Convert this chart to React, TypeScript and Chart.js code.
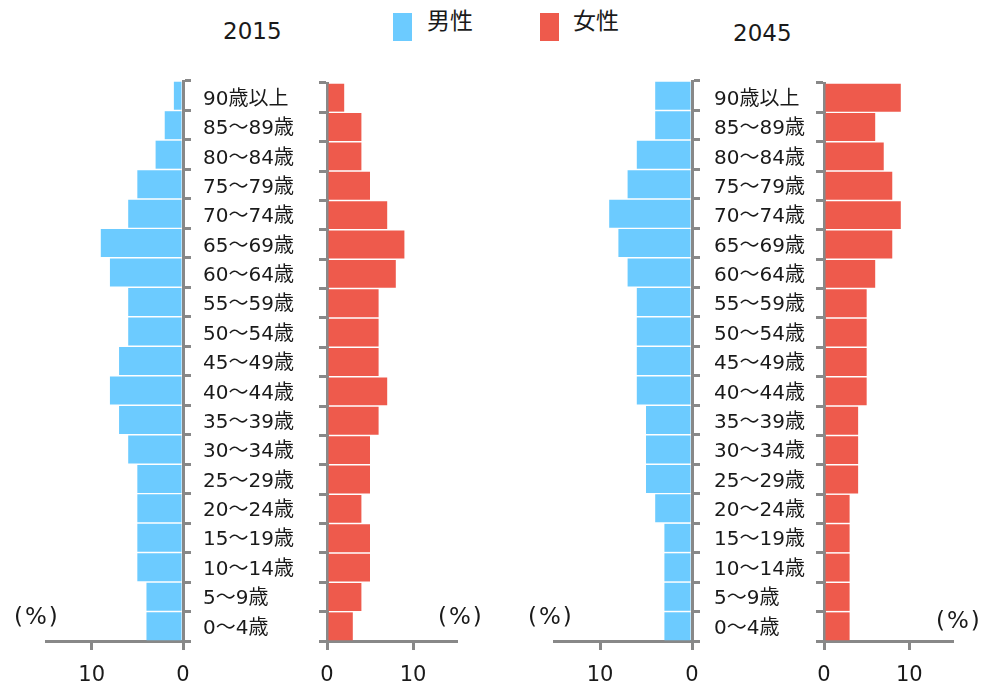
import React, { useEffect, useRef } from "react";
import { Chart, registerables } from "chart.js";

Chart.register(...registerables);

// ---- data ----
const ageGroups = [
  "0〜4歳", "5〜9歳", "10〜14歳", "15〜19歳", "20〜24歳", "25〜29歳", "30〜34歳",
  "35〜39歳", "40〜44歳", "45〜49歳", "50〜54歳", "55〜59歳", "60〜64歳", "65〜69歳",
  "70〜74歳", "75〜79歳", "80〜84歳", "85〜89歳", "90歳以上",
];
const male2015 = [4, 4, 5, 5, 5, 5, 6, 7, 8, 7, 6, 6, 8, 9, 6, 5, 3, 2, 1];
const female2015 = [3, 4, 5, 5, 4, 5, 5, 6, 7, 6, 6, 6, 8, 9, 7, 5, 4, 4, 2];
const male2045 = [3, 3, 3, 3, 4, 5, 5, 5, 6, 6, 6, 6, 7, 8, 9, 7, 6, 4, 4];
const female2045 = [3, 3, 3, 3, 3, 4, 4, 4, 5, 5, 5, 5, 6, 8, 9, 8, 7, 6, 9];
const xTicks = [0, 10];
const xMax = 15;
const years = ["2015", "2045"];
const legendLabels = ["男性", "女性"];
const unitLabel = "(%)";

// ---- styles ----
const BLUE = "#6ccbff";
const RED = "#ee5a4c";
const GRAY = "#888888";
const TEXT = "#1a1a1a";
const FONT = "'DejaVu Sans', 'Noto Sans CJK JP', sans-serif";

type HalfProps = {
  left: number;
  top: number;
  width: number;
  height: number;
  values: number[];
  color: string;
  male: boolean;
  pad: { left: number; right: number; top: number; bottom: number };
  yWidth: number;
  xHeight: number;
};

function Half(p: HalfProps) {
  const ref = useRef<HTMLCanvasElement>(null);
  useEffect(() => {
    const chart = new Chart(ref.current as HTMLCanvasElement, {
      type: "bar",
      data: {
        labels: ageGroups,
        datasets: [
          {
            data: p.values,
            backgroundColor: p.color,
            borderWidth: 0,
            barPercentage: 0.95,
            categoryPercentage: 1,
          },
        ],
      },
      options: {
        indexAxis: "y",
        animation: false,
        responsive: false,
        layout: { padding: p.pad },
        plugins: { legend: { display: false }, tooltip: { enabled: false } },
        scales: {
          x: {
            type: "linear",
            min: 0,
            max: xMax,
            reverse: p.male,
            afterBuildTicks: (s: any) => {
              s.ticks = xTicks.map((v) => ({ value: v }));
            },
            afterFit: (s: any) => {
              s.height = p.xHeight;
            },
            grid: {
              drawOnChartArea: false,
              drawTicks: true,
              tickLength: 9,
              color: GRAY,
              lineWidth: 3,
            },
            border: { display: true, color: GRAY, width: 3 },
            ticks: {
              font: { family: FONT, size: 21 },
              color: TEXT,
              padding: 13,
              maxRotation: 0,
            },
          },
          y: {
            type: "category",
            reverse: true,
            position: p.male ? "right" : "left",
            afterFit: (s: any) => {
              s.width = p.yWidth;
            },
            grid: {
              offset: true,
              drawOnChartArea: false,
              drawTicks: true,
              tickLength: 8,
              color: GRAY,
              lineWidth: 3,
            },
            border: { display: true, color: GRAY, width: 3 },
            ticks: {
              display: !p.male,
              autoSkip: false,
              crossAlign: "far",
              font: { family: FONT, size: 20 },
              color: TEXT,
              padding: 0,
              labelOffset: 2,
            },
          },
        },
      } as any,
    });
    return () => chart.destroy();
  }, []);
  return (
    <canvas
      ref={ref}
      width={p.width}
      height={p.height}
      style={{
        position: "absolute",
        left: p.left,
        top: p.top,
        width: p.width,
        height: p.height,
      }}
    />
  );
}

function Txt(props: { x: number; y: number; size: number; children: React.ReactNode; spacing?: number }) {
  return (
    <div
      style={{
        position: "absolute",
        left: props.x,
        top: props.y,
        fontSize: props.size,
        lineHeight: "1",
        fontFamily: FONT,
        color: TEXT,
        whiteSpace: "nowrap",
        letterSpacing: props.spacing ?? 0,
      }}
    >
      {props.children}
    </div>
  );
}

export default function App() {
  const top = 71;
  const h = 615;
  return (
    <div
      style={{
        position: "absolute",
        left: 0,
        top: 0,
        width: 989,
        height: 689,
        background: "#fff",
        overflow: "hidden",
      }}
    >
      {/* 2015 */}
      <Half left={36} top={top} width={162} height={h} values={male2015} color={BLUE} male={true}
        pad={{ left: 10, right: 0, top: 10, bottom: 0 }} yWidth={15} xHeight={45} />
      <Half left={203} top={top} width={263} height={h} values={female2015} color={RED} male={false}
        pad={{ left: 0, right: 10, top: 10, bottom: 0 }} yWidth={124} xHeight={45} />
      {/* 2045 */}
      <Half left={544} top={top} width={163} height={h} values={male2045} color={BLUE} male={true}
        pad={{ left: 10, right: 0, top: 10, bottom: 0 }} yWidth={15} xHeight={45} />
      <Half left={714} top={top} width={248} height={h} values={female2045} color={RED} male={false}
        pad={{ left: 0, right: 10, top: 10, bottom: 0 }} yWidth={110} xHeight={45} />

      {/* titles */}
      <Txt x={223} y={20} size={23}>{years[0]}</Txt>
      <Txt x={733} y={22} size={23}>{years[1]}</Txt>

      {/* legend */}
      <div style={{ position: "absolute", left: 393, top: 13, width: 19, height: 28, background: BLUE }} />
      <Txt x={427} y={10} size={23}>{legendLabels[0]}</Txt>
      <div style={{ position: "absolute", left: 540, top: 13, width: 19, height: 28, background: RED }} />
      <Txt x={573} y={10} size={23}>{legendLabels[1]}</Txt>

      {/* unit labels */}
      <Txt x={14} y={605} size={23} spacing={2}>{unitLabel}</Txt>
      <Txt x={438} y={605} size={23} spacing={2}>{unitLabel}</Txt>
      <Txt x={528} y={605} size={23} spacing={2}>{unitLabel}</Txt>
      <Txt x={936} y={609} size={23} spacing={2}>{unitLabel}</Txt>
    </div>
  );
}
